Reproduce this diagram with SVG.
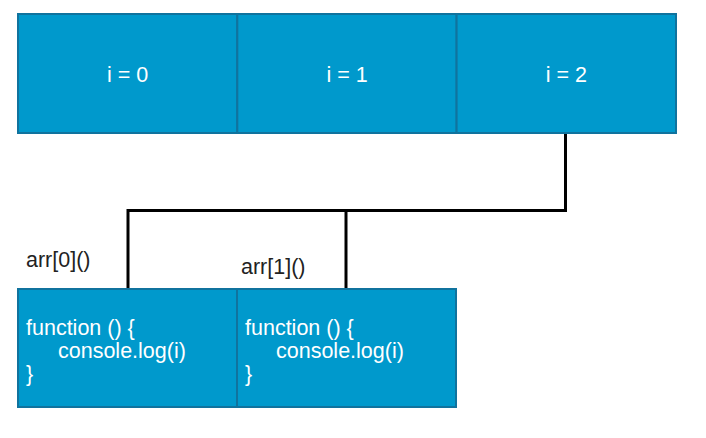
<svg xmlns="http://www.w3.org/2000/svg" width="706" height="438" viewBox="0 0 706 438">
<style>
.cell{fill:#0099CC;stroke:#10739E;stroke-width:2}
.t{font-family:"Liberation Sans",Arial,sans-serif;font-size:21.5px;fill:#ffffff}
.lbl{font-family:"Liberation Sans",Arial,sans-serif;font-size:21.5px;fill:#222222}
.conn{fill:none;stroke:#000000;stroke-width:3}
</style>
<rect width="706" height="438" fill="#ffffff"/>
<g id="i0"><rect class="cell" x="18" y="14" width="219.3" height="119"/><text class="t" x="127.6" y="82" text-anchor="middle">i = 0</text></g>
<g id="i1"><rect class="cell" x="237.3" y="14" width="219.3" height="119"/><text class="t" x="347" y="82" text-anchor="middle">i = 1</text></g>
<g id="i2"><rect class="cell" x="456.6" y="14" width="219.4" height="119"/><text class="t" x="566.3" y="82" text-anchor="middle">i = 2</text></g>
<g id="connectors">
<path class="conn" d="M565.5 134 V210.5 H128 V289"/>
<path class="conn" d="M346 210.5 V289"/>
</g>
<g id="label0"><text class="lbl" x="26" y="267">arr[0]()</text></g>
<g id="label1"><text class="lbl" x="241" y="274">arr[1]()</text></g>
<g id="f0"><rect class="cell" x="18" y="289" width="219" height="118"/>
<text class="t" x="26" y="335">function () {</text>
<text class="t" x="58" y="358">console.log(i)</text>
<text class="t" x="26" y="381">}</text></g>
<g id="f1"><rect class="cell" x="237" y="289" width="219" height="118"/>
<text class="t" x="245" y="335">function () {</text>
<text class="t" x="276" y="358">console.log(i)</text>
<text class="t" x="245" y="381">}</text></g>
</svg>
